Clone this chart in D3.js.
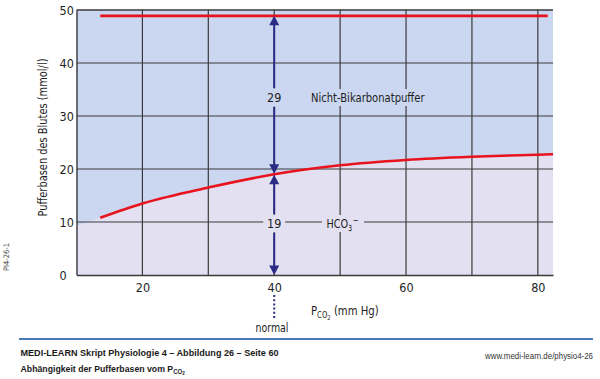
<!DOCTYPE html>
<html>
<head>
<meta charset="utf-8">
<script src="https://cdn.jsdelivr.net/npm/d3@7"></script>
<style>
  html, body { margin: 0; padding: 0; background: #fff; }
  svg { display: block; }
  .cf { font-family: "Liberation Sans Narrow", "DejaVu Sans Condensed", "Arial Narrow", sans-serif; }
  .ff { font-family: "Liberation Sans", Arial, sans-serif; }
</style>
</head>
<body>
<svg id="chart" width="600" height="379"></svg>
<script>
// ---- data ----
const xTicks = [20, 40, 60, 80];
const yTicks = [0, 10, 20, 30, 40, 50];
const xGrid = [20, 30, 40, 50, 60, 70, 80];
// HCO3- curve (mmol/l) vs PCO2 (mm Hg)
const pco2 = [13.6, 20, 30, 40, 50, 60, 70, 80, 82.3];
const hco3 = [10.8, 13.5, 16.5, 19.0, 20.7, 21.7, 22.3, 22.7, 22.8];
// boundary between the two shaded regions (curve extended to the left edge)
const boundaryPco2 = [10, 13.6, 20, 30, 40, 50, 60, 70, 80, 82.3];
const boundaryHco3 = [9.2, 10.8, 13.5, 16.5, 19.0, 20.7, 21.7, 22.3, 22.7, 22.8];
// total buffer bases line
const totalPco2 = [13.6, 81.5];
const totalBase = [48.9, 48.9];
const normalPco2 = 40;
const nonBicarbValue = 29;
const bicarbValue = 19;

const svg = d3.select("#chart");
const L = 76.5, R = 553, T = 10, B = 275;
const x = d3.scaleLinear().domain([10, 82.3]).range([L, R]);
const y = d3.scaleLinear().domain([0, 50]).range([B, T]);

const blue = "#cbd7f0", lav = "#e2e0f1", red = "#e8131d", navy = "#2b2a85", grid = "#3a3a3a", txt = "#1e1e1e";
const FS = 12.5;

// background regions
svg.append("rect").attr("x", L).attr("y", T).attr("width", R - L).attr("height", B - T).attr("fill", blue);
const bpts = boundaryPco2.map((p, i) => [p, boundaryHco3[i]]);
const area = d3.area().x(d => x(d[0])).y0(y(0)).y1(d => y(d[1])).curve(d3.curveMonotoneX);
svg.append("path").attr("d", area(bpts)).attr("fill", lav);

// grid
const g = svg.append("g");
g.selectAll("line.v").data(xGrid).join("line")
  .attr("x1", d => x(d)).attr("x2", d => x(d)).attr("y1", T).attr("y2", B)
  .attr("stroke", grid).attr("stroke-width", 1.2);
g.selectAll("line.h").data(yTicks.filter(d => d > 0)).join("line")
  .attr("x1", L).attr("x2", R).attr("y1", d => y(d)).attr("y2", d => y(d))
  .attr("stroke", grid).attr("stroke-width", 1.2);

// axes
const yAxis = d3.axisLeft(y).tickValues(yTicks).tickSize(0).tickPadding(0);
const ya = svg.append("g").attr("transform", `translate(${L},0)`).call(yAxis);
ya.select(".domain").attr("stroke", grid).attr("stroke-width", 1.4);
ya.selectAll("text").attr("class", "cf").attr("font-size", FS).attr("fill", txt)
  .attr("text-anchor", "start").attr("x", 59.5 - L);
const xAxis = d3.axisBottom(x).tickValues(xTicks).tickSize(0).tickPadding(0);
const xa = svg.append("g").attr("transform", `translate(0,${B})`).call(xAxis);
xa.select(".domain").attr("stroke", grid).attr("stroke-width", 1.4);
xa.selectAll("text").attr("class", "cf").attr("font-size", FS).attr("fill", txt).attr("dy", 0).attr("y", 16.5);
svg.append("line").attr("x1", L).attr("x2", R).attr("y1", T).attr("y2", T).attr("stroke", grid).attr("stroke-width", 1.2);

// label backgrounds (gaps in grid)
function bgRect(cx, cy, w, h, fill) {
  svg.append("rect").attr("x", cx - w / 2).attr("y", cy - h / 2).attr("width", w).attr("height", h).attr("fill", fill);
}
bgRect(367.5, 97.5, 120, 17, blue);
bgRect(x(normalPco2), 97.5, 16, 18, blue);
bgRect(x(normalPco2), 223.5, 22, 17, lav);
bgRect(343, 223.5, 42, 17, lav);

// curves
const line = d3.line().x(d => x(d[0])).y(d => y(d[1])).curve(d3.curveMonotoneX);
svg.append("path").attr("d", line(pco2.map((p, i) => [p, hco3[i]])))
  .attr("fill", "none").attr("stroke", red).attr("stroke-width", 2.6);
svg.append("path").attr("d", line(totalPco2.map((p, i) => [p, totalBase[i]])))
  .attr("fill", "none").attr("stroke", red).attr("stroke-width", 2.6);

// arrows
const ax = x(normalPco2);
const yTop = y(totalBase[0]), yMid = y(hco3[3]), yBot = y(0);
function vseg(y1, y2) {
  svg.append("line").attr("x1", ax).attr("x2", ax).attr("y1", y1).attr("y2", y2)
    .attr("stroke", navy).attr("stroke-width", 2);
}
function head(tipY, dir) { // dir -1 up, +1 down
  const h = 9.5, w = 5;
  svg.append("path").attr("d", `M${ax},${tipY} L${ax - w},${tipY - dir * h} L${ax + w},${tipY - dir * h} Z`).attr("fill", navy);
}
vseg(yTop + 8, 88); vseg(107, yMid - 8);
vseg(yMid + 8, 214); vseg(233, yBot - 8);
head(yTop, -1); head(yMid - 0.5, 1); head(yMid + 0.5, -1); head(yBot, 1);

// in-plot labels
svg.append("text").attr("class", "cf").attr("x", ax).attr("y", 102).attr("text-anchor", "middle")
  .attr("font-size", FS).attr("fill", txt).text(nonBicarbValue);
svg.append("text").attr("class", "cf").attr("x", ax).attr("y", 228).attr("text-anchor", "middle")
  .attr("font-size", FS).attr("fill", txt).text(bicarbValue);
svg.append("text").attr("class", "cf").attr("x", 311).attr("y", 102)
  .attr("font-size", FS).attr("fill", txt)
  .attr("textLength", 113.5).attr("lengthAdjust", "spacingAndGlyphs")
  .text("Nicht-Bikarbonatpuffer");
const hco = svg.append("text").attr("class", "cf")
  .attr("transform", "translate(326.5,228) scale(0.86,1)")
  .attr("font-size", FS).attr("fill", txt);
hco.append("tspan").text("HCO");
hco.append("tspan").attr("font-size", 8.5).attr("dy", 3).text("3");
hco.append("tspan").attr("font-size", 9).attr("dy", -8).attr("dx", 0.5).text("\u2212");

// normal marker
svg.append("line").attr("x1", ax).attr("x2", ax).attr("y1", 295).attr("y2", 319)
  .attr("stroke", navy).attr("stroke-width", 2).attr("stroke-dasharray", "2,2.2");
svg.append("text").attr("class", "cf").attr("x", 272).attr("y", 332).attr("text-anchor", "middle")
  .attr("font-size", FS).attr("fill", txt)
  .attr("textLength", 33).attr("lengthAdjust", "spacingAndGlyphs").text("normal");

// axis titles
const xt = svg.append("text").attr("class", "cf")
  .attr("transform", "translate(311,315) scale(0.9,1)")
  .attr("font-size", FS).attr("fill", txt);
xt.append("tspan").text("P");
xt.append("tspan").attr("font-size", 8.5).attr("dy", 3).text("CO");
xt.append("tspan").attr("font-size", 6.5).attr("dy", 1.5).text("2");
xt.append("tspan").attr("dy", -4.5).text(" (mm Hg)");
svg.append("text").attr("class", "cf").attr("transform", "translate(47,137.5) rotate(-90)")
  .attr("text-anchor", "middle").attr("font-size", FS).attr("fill", txt)
  .attr("textLength", 158).attr("lengthAdjust", "spacingAndGlyphs")
  .text("Pufferbasen des Blutes (mmol/l)");

// side code
svg.append("text").attr("class", "cf").attr("transform", "translate(9,257) rotate(-90)")
  .attr("text-anchor", "middle").attr("font-size", 7.5).attr("fill", "#444").text("PI4-26-1");

// footer
svg.append("line").attr("x1", 19).attr("x2", 593).attr("y1", 339).attr("y2", 339)
  .attr("stroke", "#4a7ab8").attr("stroke-width", 2);
svg.append("text").attr("class", "ff").attr("x", 20.5).attr("y", 356)
  .attr("font-size", 9.5).attr("font-weight", "bold").attr("fill", "#1a1a1a")
  .attr("textLength", 258).attr("lengthAdjust", "spacingAndGlyphs")
  .text("MEDI-LEARN Skript Physiologie 4 \u2013 Abbildung 26 \u2013 Seite 60");
const sub = svg.append("text").attr("class", "ff")
  .attr("transform", "translate(20.5,372) scale(0.92,1)")
  .attr("font-size", 9.5).attr("font-weight", "bold").attr("fill", "#1a1a1a");
sub.append("tspan").text("Abh\u00e4ngigkeit der Pufferbasen vom P");
sub.append("tspan").attr("font-size", 6.5).attr("dy", 1.5).text("CO");
sub.append("tspan").attr("font-size", 5).attr("dy", 1).text("2");
svg.append("text").attr("class", "ff").attr("x", 593).attr("y", 359).attr("text-anchor", "end")
  .attr("font-size", 8.5).attr("fill", "#333")
  .attr("textLength", 108).attr("lengthAdjust", "spacingAndGlyphs")
  .text("www.medi-learn.de/physio4-26");
</script>
</body>
</html>
